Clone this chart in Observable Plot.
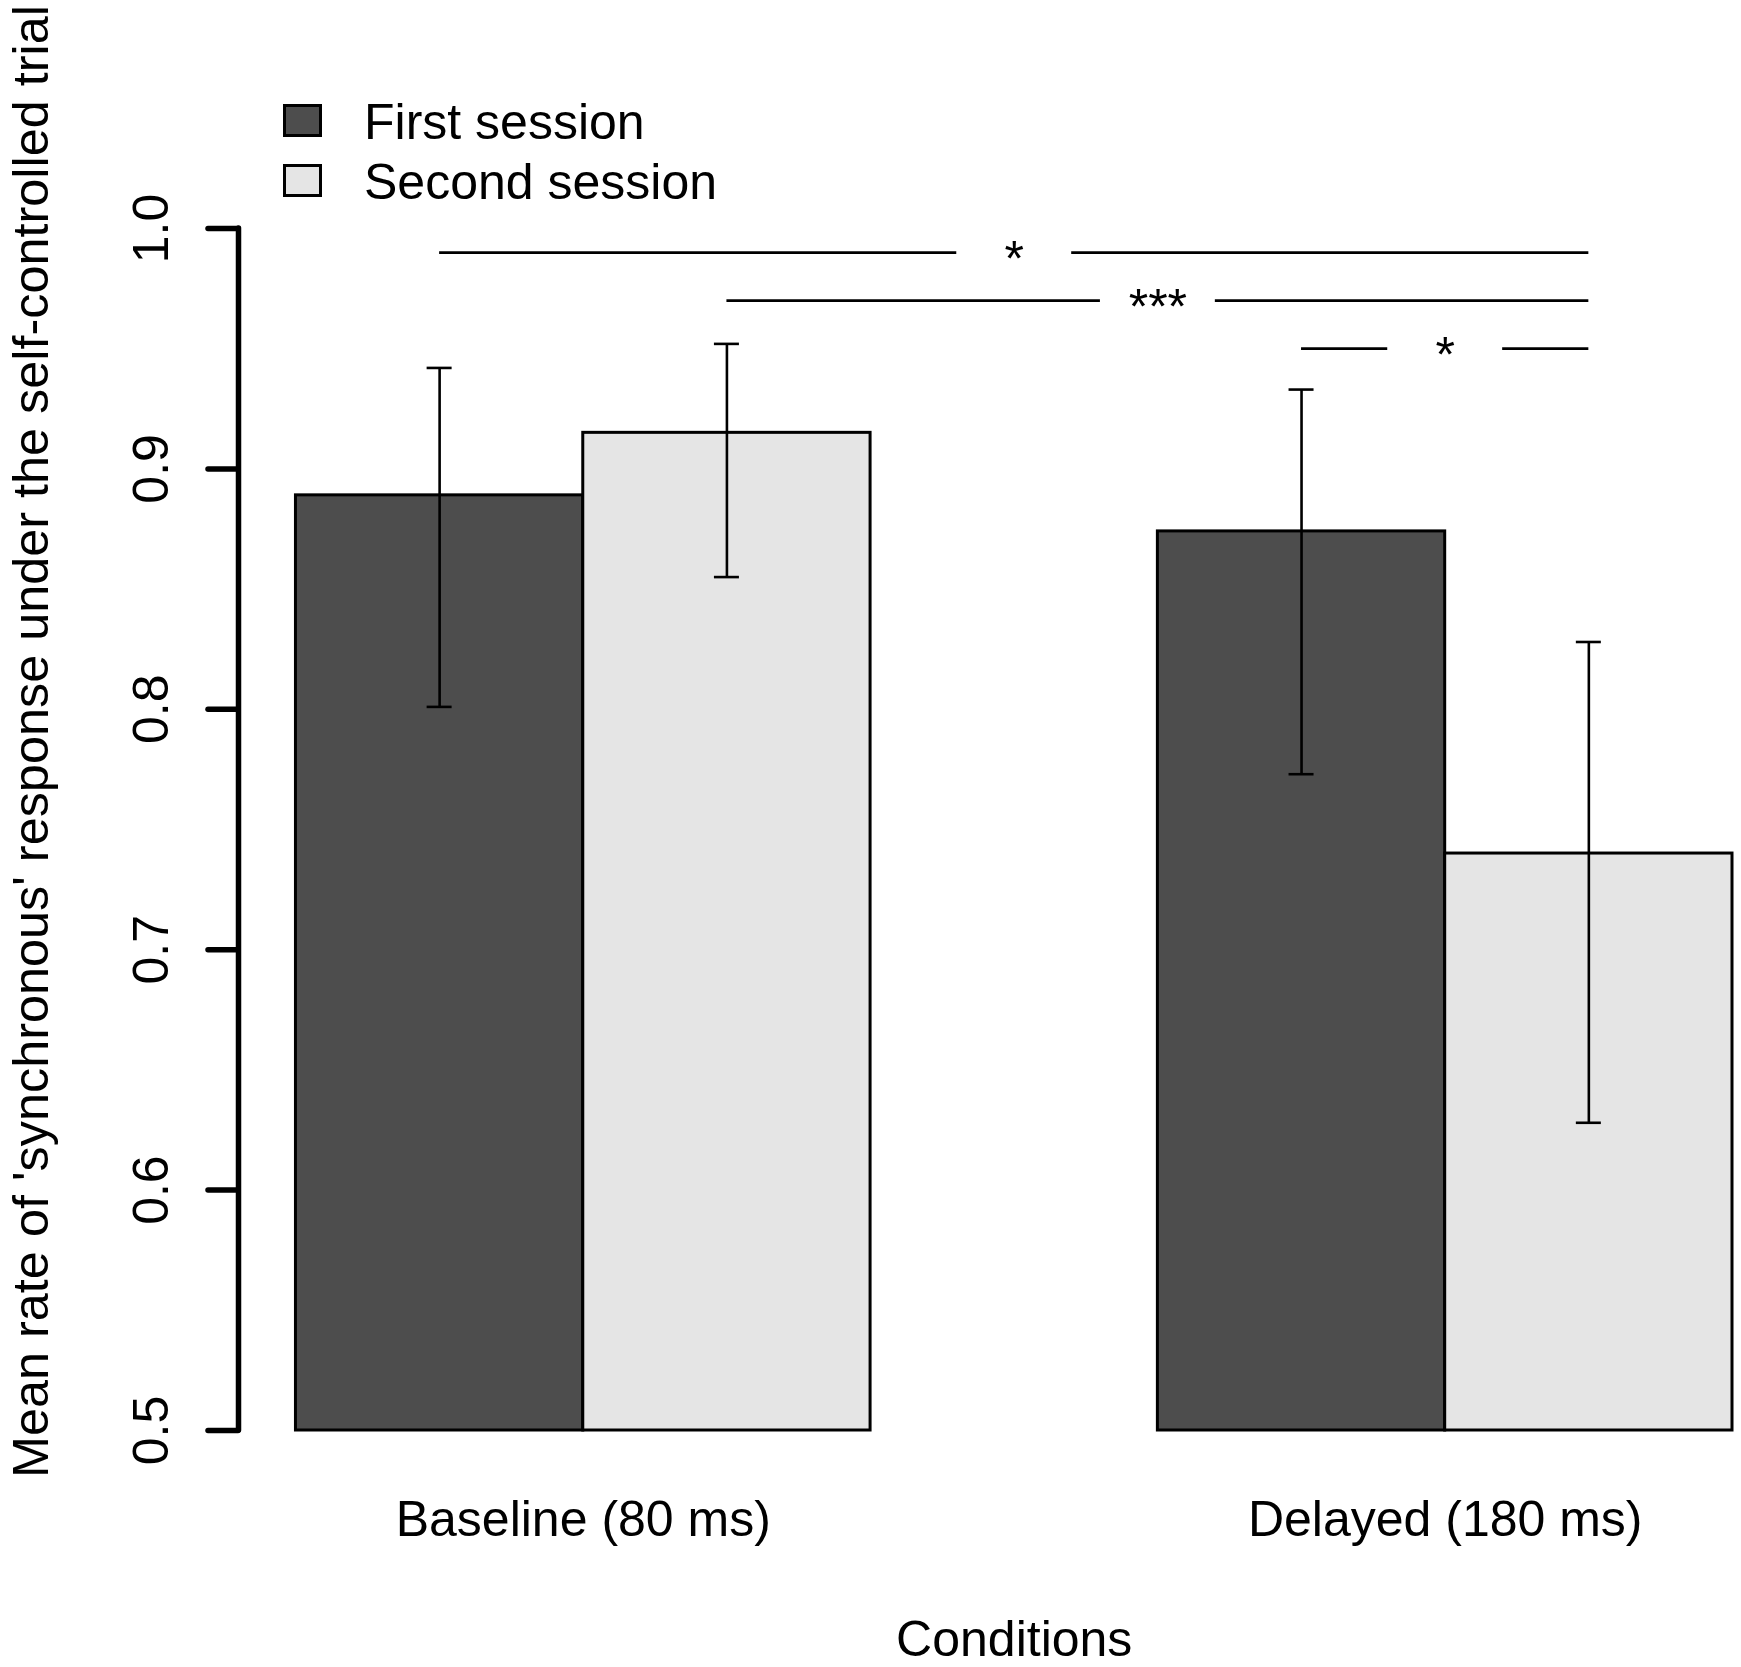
<!DOCTYPE html>
<html>
<head>
<meta charset="utf-8">
<script src="https://cdn.jsdelivr.net/npm/d3@7"></script>
<script src="https://cdn.jsdelivr.net/npm/@observablehq/plot@0.6"></script>
<style>
  html, body { margin: 0; padding: 0; background: #fff; }
  #wrap { position: relative; width: 1741px; height: 1667px; font-family: "Liberation Sans", Arial, sans-serif; }
  .leg-item { position: absolute; left: 283px; height: 50px; }
  .leg-box { position: absolute; left: 0; width: 33px; height: 27px; border: 3px solid #000; }
  .leg-text { position: absolute; left: 81px; top: 0; font-size: 50px; line-height: 50px; white-space: nowrap; color: #000; }
</style>
</head>
<body>
<div id="wrap"></div>
<script>
// ---- data ----
const conditions = ["Baseline (80 ms)", "Delayed (180 ms)"];
const sessions = ["First session", "Second session"];
const sessionColors = ["#4d4d4d", "#e5e5e5"];

const firstMean  = [0.889, 0.874];
const secondMean = [0.915, 0.740];
const firstLower  = [0.801, 0.773];
const firstUpper  = [0.942, 0.933];
const secondLower = [0.855, 0.628];
const secondUpper = [0.952, 0.828];

const yTicks = [0.5, 0.6, 0.7, 0.8, 0.9, 1.0];

// significance brackets: [condition, session] indices
const sigFrom  = [[0, 0], [0, 1], [1, 0]];
const sigTo    = [[1, 1], [1, 1], [1, 1]];
const sigLevel = [0.99, 0.97, 0.95];
const sigLabel = ["*", "***", "*"];

const yTitle = "Mean rate of 'synchronous' response under the self-controlled trial";
const xTitle = "Conditions";

// ---- build tables ----
const slot = sessions.length + 1;               // bars per group + one-bar gap
const pos = (ci, si) => ci * slot + si;          // left edge of a bar in bar units
const center = (ci, si) => pos(ci, si) + 0.5;
const groupCenter = ci => ci * slot + sessions.length / 2;

const means = [firstMean, secondMean];
const lowers = [firstLower, secondLower];
const uppers = [firstUpper, secondUpper];

const bars = [];
conditions.forEach((c, ci) => sessions.forEach((s, si) => {
  bars.push({condition: c, session: s, ci, si,
    value: means[si][ci], lo: lowers[si][ci], hi: uppers[si][ci]});
}));

const sig = sigLabel.map((label, k) => {
  const a = center(...sigFrom[k]);
  const b = center(...sigTo[k]);
  return {label, y: sigLevel[k], a, b, mid: (a + b) / 2};
});
const gap = 0.2;
const sigSegments = sig.flatMap(d => [
  {y: d.y, x1: d.a, x2: d.mid - gap},
  {y: d.y, x1: d.mid + gap, x2: d.b}
]);

const xMin = -0.2;
const xMax = conditions.length * slot - 1;
const yMin = d3.min(yTicks), yMax = d3.max(yTicks);

const font = 50;

const chart = Plot.plot({
  width: 1741,
  height: 1667,
  marginLeft: 238,
  marginRight: 9,
  marginTop: 228,
  marginBottom: 237,
  style: {fontFamily: "'Liberation Sans', Arial, sans-serif", background: "#fff", color: "#000"},
  x: {domain: [xMin, xMax], axis: null},
  y: {domain: [yMin, yMax], axis: null},
  color: {domain: sessions, range: sessionColors},
  marks: [
    // bars
    Plot.rect(bars, {
      x1: d => pos(d.ci, d.si), x2: d => pos(d.ci, d.si) + 1,
      y1: yMin, y2: "value",
      fill: "session", stroke: "#000", strokeWidth: 3
    }),
    // error bars
    Plot.ruleX(bars, {x: d => center(d.ci, d.si), y1: "lo", y2: "hi", stroke: "#000", strokeWidth: 2.6}),
    Plot.ruleY(bars, {y: "hi", x1: d => center(d.ci, d.si), x2: d => center(d.ci, d.si),
      insetLeft: -12.5, insetRight: -12.5, stroke: "#000", strokeWidth: 2.6}),
    Plot.ruleY(bars, {y: "lo", x1: d => center(d.ci, d.si), x2: d => center(d.ci, d.si),
      insetLeft: -12.5, insetRight: -12.5, stroke: "#000", strokeWidth: 2.6}),
    // significance brackets
    Plot.ruleY(sigSegments, {y: "y", x1: "x1", x2: "x2", stroke: "#000", strokeWidth: 2.8}),
    Plot.text(sig, {x: "mid", y: "y", text: "label", lineAnchor: "bottom", dy: 23.5,
      fontSize: font, fill: "#000"}),
    // y axis
    Plot.ruleX([xMin], {y1: yMin, y2: yMax, stroke: "#000", strokeWidth: 5.5, strokeLinecap: "round"}),
    Plot.ruleY(yTicks, {y: d => d, x1: xMin, x2: xMin, insetLeft: -30,
      stroke: "#000", strokeWidth: 5.5, strokeLinecap: "round"}),
    Plot.text(yTicks, {y: d => d, text: d => d.toFixed(1), frameAnchor: "left", dx: -71,
      rotate: -90, textAnchor: "middle", lineAnchor: "bottom", fontSize: font, fill: "#000"}),
    Plot.text([yTitle], {frameAnchor: "left", dx: -191, dy: -88, rotate: -90,
      textAnchor: "middle", lineAnchor: "bottom", fontSize: 50.4, fill: "#000"}),
    // x labels
    Plot.text(conditions, {x: (d, i) => groupCenter(i), frameAnchor: "bottom", dy: 105,
      lineAnchor: "bottom", fontSize: font, fill: "#000"}),
    Plot.text([xTitle], {x: () => d3.mean(conditions, (d, i) => groupCenter(i)), frameAnchor: "bottom", dy: 225,
      lineAnchor: "bottom", fontSize: font, fill: "#000"})
  ]
});

const wrap = document.getElementById("wrap");
wrap.appendChild(chart);

// legend (overlaid in the top-left margin)
sessions.forEach((s, i) => {
  const item = document.createElement("div");
  item.className = "leg-item";
  item.style.top = (97 + i * 60) + "px";
  const box = document.createElement("div");
  box.className = "leg-box";
  box.style.top = "7px";
  box.style.background = sessionColors[i];
  const txt = document.createElement("div");
  txt.className = "leg-text";
  txt.textContent = s;
  item.appendChild(box);
  item.appendChild(txt);
  wrap.appendChild(item);
});
</script>
</body>
</html>
